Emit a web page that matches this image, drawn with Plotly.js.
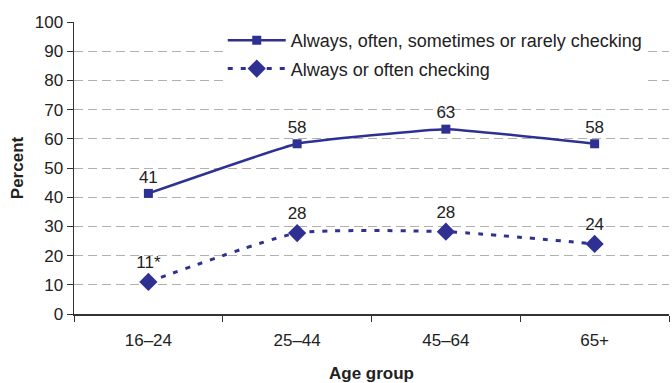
<!DOCTYPE html>
<html><head><meta charset="utf-8">
<script src="https://cdn.plot.ly/plotly-3.0.1.min.js"></script>
<style>html,body{margin:0;padding:0;background:#fff}#c{width:672px;height:383px}</style>
</head><body><div id="c"></div>
<script>
const categories = ["16–24", "25–44", "45–64", "65+"];
const anyChecking = [41.3, 58.3, 63.3, 58.3];
const anyLabels = ["41", "58", "63", "58"];
const oftenChecking = [11, 27.7, 28.2, 24];
const oftenLabels = ["11*", "28", "28", "24"];
const seriesNames = ["Always, often, sometimes or rarely checking", "Always or often checking"];
const yTicks = [0,10,20,30,40,50,60,70,80,90,100];

const col = '#2e3192';
const traces = [
  {x: categories, y: anyChecking, name: seriesNames[0], legendgroup: 'a', mode: 'lines+markers+text',
   text: anyLabels, textposition: 'top center', textfont: {size: 17, color: '#222'},
   line: {color: col, width: 2.5, shape: 'spline', smoothing: 0.3},
   marker: {symbol: 'square', size: 9, color: col}},
  {x: categories, y: oftenChecking, name: seriesNames[1], legendgroup: 'b', mode: 'lines+markers+text',
   text: oftenLabels, textposition: 'top center', textfont: {size: 17, color: '#222'},
   line: {color: col, width: 3, dash: '5px,8px', shape: 'spline', smoothing: 0.5},
   marker: {symbol: 'diamond', size: 14, color: col}}
];
const layout = {
  width: 672, height: 383,
  margin: {l: 74, r: 3, t: 22, b: 69},
  paper_bgcolor: '#fff', plot_bgcolor: '#fff',
  font: {family: 'Liberation Sans, Arial, sans-serif', size: 17, color: '#222'},
  showlegend: true,
  legend: {x: 0.25, y: 1.0, xanchor: 'left', yanchor: 'top', bgcolor: '#fff',
    font: {size: 18, color: '#222'}, itemwidth: 58, traceorder: 'grouped', tracegroupgap: 2},
  xaxis: {type: 'category', range: [-0.5, 3.5], showgrid: false, zeroline: false,
    showline: true, linecolor: '#333', linewidth: 1.5,
    ticks: 'outside', ticklen: 6, tickcolor: '#333', tickson: 'boundaries',
    ticklabelstandoff: 10,
    tickfont: {size: 17, color: '#222'},
    title: {text: '<b>Age group</b>', font: {size: 17, color: '#222'}, standoff: 20}},
  yaxis: {range: [0, 100], tickvals: yTicks, showgrid: true, gridcolor: '#b0b0b0',
    griddash: '9px,5px', gridwidth: 1, zeroline: false,
    showline: true, linecolor: '#333', linewidth: 1.5,
    ticks: 'outside', ticklen: 6, tickcolor: '#333',
    tickfont: {size: 17, color: '#222'},
    title: {text: '<b>Percent</b>', font: {size: 17, color: '#222'}, standoff: 7}}
};
Plotly.newPlot('c', traces, layout, {displayModeBar: false, staticPlot: true});
</script></body></html>
